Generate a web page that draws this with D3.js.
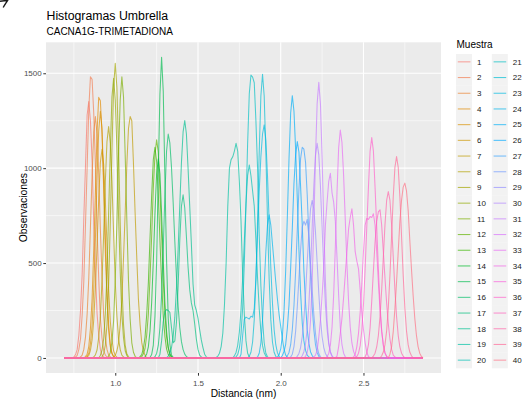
<!DOCTYPE html>
<html>
<head>
<meta charset="utf-8">
<script src="https://cdn.jsdelivr.net/npm/d3@7"></script>
<style>
  body { margin: 0; background: #ffffff; }
  svg { display: block; font-family: "Liberation Sans", Arial, Helvetica, sans-serif; }
</style>
</head>
<body>
<svg id="chart" width="524" height="402"></svg>
<script>
// Umbrella sampling windows: histogram counts per window (bin width 0.01 nm)
const muestras = d3.range(1, 41).map(String);

// position (nm) of the first listed bin of each window
const inicio = [
  0.75, 0.76, 0.79, 0.82, 0.83, 0.83, 1.00, 0.87, 0.92, 0.91,
  0.96, 1.16, 1.15, 1.18, 1.21, 1.24, 1.27, 1.32, 1.61, 1.72,
  1.73, 1.81, 1.76, 1.86, 1.98, 2.01, 2.04, 2.06, 2.10, 2.13,
  2.15, 2.20, 2.28, 2.34, 2.44, 2.46, 2.51, 2.56, 2.61, 2.66
];

// counts per bin, starting at inicio[i]; bins outside the list are empty
const conteos = [
  [5,18,45,120,250,440,740,1010,1280,1351,1250,1040,710,460,235,120,45,15,5],
  [5,14,45,100,225,405,700,1000,1310,1482,1468,1290,1020,680,420,210,105,40,15,5],
  [5,15,45,110,230,420,690,960,1190,1272,1180,970,680,430,225,110,45,15,5],
  [7,20,60,155,310,570,875,1190,1373,1355,1180,890,560,315,145,60,22,7],
  [8,25,75,170,365,625,950,1195,1300,1210,935,640,355,180,70,26,8],
  [4,13,40,95,200,370,590,840,1030,1100,1020,830,600,360,195,95,38,13,4],
  [14,38,80,175,310,530,765,1020,1210,1272,1250,1025,765,530,310,175,82,36,14],
  [5,16,42,108,215,410,650,930,1140,1219,1130,930,660,400,220,100,44,15,5],
  [6,22,68,177,387,711,1098,1424,1553,1424,1098,711,387,177,68,22,6],
  [13,42,100,235,445,765,1090,1375,1474,1360,1105,750,455,228,105,38,13],
  [9,28,85,195,415,715,1080,1360,1482,1375,1070,728,405,205,80,30,9],
  [7,22,50,120,230,420,640,895,1070,1149,1085,880,655,410,236,112,52,19,7],
  [7,18,50,110,228,395,630,855,1045,1110,1035,865,620,405,222,114,48,19,7],
  [6,21,59,142,292,511,762,969,1050,969,762,511,292,142,59,21,6],
  [3,18,68,220,505,975,1390,1584,1405,950,520,210,72,16,3],
  [7,24,66,159,328,575,857,1089,1180,1133,1002,818,614,425,271,159,86,44,20,8],
  [20,90,190,245,255,250,240,160,80,90,190,380,620,800,860,790,640,480,360,290,250,180,100,45,15,5],
  [10,24,55,114,215,369,573,806,1030,1191,1251,1180,1000,800,600,390,280,250,210,150,95,55,20,6],
  [3,10,25,60,130,280,500,800,1000,1045,1060,1090,1131,1090,930,720,440,230,90,25,5],
  [11,29,67,137,253,418,617,814,962,1017,960,880,800,620,420,260,140,65,28,10],
  [6,18,52,127,268,498,804,1133,1393,1491,1480,1450,1250,1000,650,380,200,80,25,6],
  [9,30,84,202,416,728,1085,1380,1495,1380,1085,728,416,202,84,30,9],
  [20,120,205,215,210,205,220,215,260,420,650,880,1060,1180,1228,1150,960,720,480,290,150,70,28,8],
  [5,25,80,200,380,560,700,754,700,600,500,400,310,230,165,100,45,15,4],
  [5,17,48,117,249,462,745,1050,1291,1382,1300,1100,840,570,345,185,90,40,15,5],
  [13,35,72,158,280,475,685,920,1070,1140,1085,905,700,460,290,150,78,32,13],
  [11,29,70,150,276,456,674,888,1050,1110,1100,1030,860,640,440,270,150,70,28,9],
  [5,20,60,140,270,420,570,690,720,700,730,640,500,360,230,130,60,22,6],
  [9,24,55,112,207,341,504,664,785,830,785,664,504,341,207,112,55,24,9],
  [12,33,75,153,282,465,687,905,1070,1131,1070,905,687,465,282,153,75,33,12],
  [9,29,81,196,404,707,1054,1340,1452,1340,1054,707,404,196,81,29,9],
  [5,15,40,110,200,330,480,700,820,930,973,870,820,720,530,330,160,70,25,6],
  [7,24,67,162,334,585,872,1108,1201,1136,961,729,494,299,162,79,35,13],
  [10,60,130,210,320,440,560,680,740,786,700,560,510,470,360,240,150,80,30,8],
  [5,20,60,130,240,390,560,700,735,730,745,740,760,700,560,400,250,140,70,28,8],
  [8,25,65,145,280,470,690,900,1090,1161,1090,900,690,470,280,145,65,25,8],
  [6,25,70,160,300,460,610,720,770,781,700,560,420,290,180,100,45,15,5],
  [10,25,58,118,218,360,532,702,830,877,830,702,532,360,218,118,58,25,10],
  [12,31,70,143,264,436,644,849,1004,1061,1004,849,644,436,264,143,70,31,12],
  [20,60,140,260,400,560,720,830,900,921,880,780,620,470,330,210,120,60,25,8]
];

// shared bin grid (nm, in hundredths)
const binIni = 69, binFin = 286;

const yTicks = [0, 500, 1000, 1500];
const yMinor = [250, 750, 1250];
const xTicks = [1.0, 1.5, 2.0, 2.5];
const xTickLabels = ["1.0", "1.5", "2.0", "2.5"];
const xMinor = [0.75, 1.25, 1.75, 2.25, 2.75];

// R-style hcl() (polar CIE-LUV) -> sRGB hex
function hclR(h, c, l) {
  const WX = 95.047, WY = 100.0, WZ = 108.883;
  const t = WX + WY + WZ, xn = WX / t, yn = WY / t;
  const uN = 2 * xn / (6 * yn - xn + 1.5);
  const vN = 4.5 * yn / (6 * yn - xn + 1.5);
  const hr = h * Math.PI / 180;
  const U = c * Math.cos(hr), V = c * Math.sin(hr);
  const Y = l > 7.999592 ? WY * Math.pow((l + 16) / 116, 3) : WY * l / 903.3;
  const u = U / (13 * l) + uN, v = V / (13 * l) + vN;
  const X = 9 * Y * u / (4 * v);
  const Z = -X / 3 - 5 * Y + 3 * Y / v;
  const g = a => a > 0.00304 ? 1.055 * Math.pow(a, 1 / 2.4) - 0.055 : 12.92 * a;
  const cl = a => Math.round(255 * Math.max(0, Math.min(1, a)));
  const r = g((3.240479 * X - 1.537150 * Y - 0.498535 * Z) / WY);
  const gr = g((-0.969256 * X + 1.875992 * Y + 0.041556 * Z) / WY);
  const b = g((0.055648 * X - 0.204043 * Y + 1.057311 * Z) / WY);
  return d3.rgb(cl(r), cl(gr), cl(b)).formatHex();
}
const colores = muestras.map((_, i) => hclR(15 + 9 * i, 100, 65));

// full series over the shared grid
const series = muestras.map((m, i) => {
  const pts = d3.range(binIni, binFin + 1).map(k => ({ x: k / 100, y: 0 }));
  const off = Math.round(inicio[i] * 100) - binIni;
  conteos[i].forEach((c, j) => { pts[off + j].y = c; });
  return { name: m, color: colores[i], pts };
});

const P = { l: 46, r: 441, t: 42.3, b: 373 };
const xMin = binIni / 100, xMax = binFin / 100;
const xPad = (xMax - xMin) * 0.05;
const yMax = d3.max(conteos, a => d3.max(a));
const x = d3.scaleLinear().domain([xMin - xPad, xMax + xPad]).range([P.l, P.r]);
const y = d3.scaleLinear().domain([-yMax * 0.05, yMax * 1.05]).range([P.b, P.t]);

const svg = d3.select("#chart");
svg.append("rect").attr("width", 524).attr("height", 402).attr("fill", "#ffffff");

// panel
svg.append("rect").attr("x", P.l).attr("y", P.t)
  .attr("width", P.r - P.l).attr("height", P.b - P.t).attr("fill", "#EBEBEB");

const grid = svg.append("g");
grid.selectAll("line.ym").data(yMinor).join("line")
  .attr("x1", P.l).attr("x2", P.r).attr("y1", d => y(d)).attr("y2", d => y(d))
  .attr("stroke", "#ffffff").attr("stroke-width", 0.55);
grid.selectAll("line.xm").data(xMinor).join("line")
  .attr("y1", P.t).attr("y2", P.b).attr("x1", d => x(d)).attr("x2", d => x(d))
  .attr("stroke", "#ffffff").attr("stroke-width", 0.55);
grid.selectAll("line.yM").data(yTicks).join("line")
  .attr("x1", P.l).attr("x2", P.r).attr("y1", d => y(d)).attr("y2", d => y(d))
  .attr("stroke", "#ffffff").attr("stroke-width", 1.1);
grid.selectAll("line.xM").data(xTicks).join("line")
  .attr("y1", P.t).attr("y2", P.b).attr("x1", d => x(d)).attr("x2", d => x(d))
  .attr("stroke", "#ffffff").attr("stroke-width", 1.1);

// frequency polygons
const line = d3.line().x(d => x(d.x)).y(d => y(d.y));
svg.append("g").selectAll("path").data(series).join("path")
  .attr("d", d => line(d.pts))
  .attr("fill", "none")
  .attr("stroke", d => d.color)
  .attr("stroke-opacity", 0.68)
  .attr("stroke-width", 1.05)
  .attr("stroke-linejoin", "round");

// axes
const ay = svg.append("g").attr("transform", `translate(${P.l},0)`)
  .call(d3.axisLeft(y).tickValues(yTicks).tickSize(2.7).tickPadding(1.6).tickFormat(d3.format("d")));
const ax = svg.append("g").attr("transform", `translate(0,${P.b})`)
  .call(d3.axisBottom(x).tickValues(xTicks).tickSize(2.7).tickPadding(4.2)
    .tickFormat((d, i) => xTickLabels[i]));
[ax, ay].forEach(g => {
  g.select(".domain").remove();
  g.selectAll(".tick line").attr("stroke", "#333333").attr("stroke-width", 1);
  g.selectAll(".tick text").attr("fill", "#4D4D4D").attr("font-size", 8)
    .attr("font-family", "Liberation Sans, Arial, sans-serif");
});

// titles
svg.append("text").attr("x", 46.5).attr("y", 20).attr("font-size", 12.3)
  .attr("fill", "#000").text("Histogramas Umbrella");
svg.append("text").attr("x", 46.5).attr("y", 35.4).attr("font-size", 10)
  .attr("fill", "#000").text("CACNA1G-TRIMETADIONA");
svg.append("text").attr("x", (P.l + P.r) / 2).attr("y", 396.8).attr("font-size", 10.2)
  .attr("text-anchor", "middle").attr("fill", "#000").text("Distancia (nm)");
svg.append("text").attr("transform", `translate(27.3,${(P.t + P.b) / 2}) rotate(-90)`)
  .attr("font-size", 10.4).attr("text-anchor", "middle").attr("fill", "#000").text("Observaciones");

// corner mark
svg.append("path").attr("d", "M0,1.2 C3,0.8 6,0.4 7.5,0.6 C6,3 4.5,5 3.2,7.5").attr("fill", "none")
  .attr("stroke", "#1a1a1a").attr("stroke-width", 1.4);

// legend
const L = { x0: 456, dx: 35.8, y0: 54, kw: 16, kh: 15.7 };
svg.append("text").attr("x", 456.5).attr("y", 47.5).attr("font-size", 10)
  .attr("fill", "#000").text("Muestra");
const lg = svg.append("g");
const item = lg.selectAll("g").data(series).join("g")
  .attr("transform", (d, i) => `translate(${L.x0 + Math.floor(i / 20) * L.dx},${L.y0 + (i % 20) * L.kh})`);
item.append("rect").attr("width", L.kw).attr("height", L.kh + 0.3).attr("fill", "#F2F2F2");
item.append("line").attr("x1", 1.8).attr("x2", 14.4)
  .attr("y1", L.kh / 2).attr("y2", L.kh / 2)
  .attr("stroke", d => d.color).attr("stroke-opacity", 0.68).attr("stroke-width", 1.05);
item.append("text").attr("x", L.kw + 5).attr("y", L.kh / 2).attr("dy", "0.35em")
  .attr("font-size", 8).attr("fill", "#1a1a1a").text(d => d.name);
</script>
</body>
</html>
